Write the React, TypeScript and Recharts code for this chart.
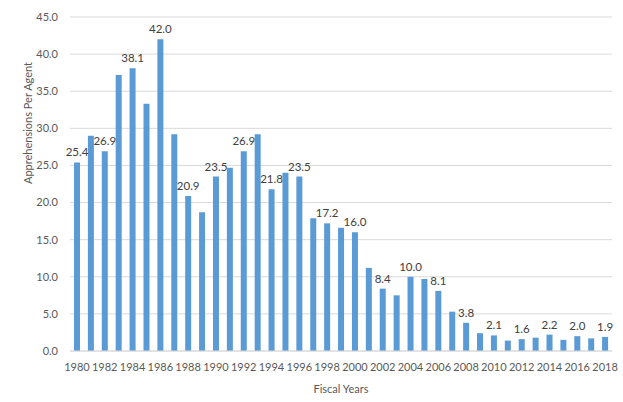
import { BarChart, Bar, XAxis, YAxis, CartesianGrid, LabelList } from "recharts";

const years = [
  1980, 1981, 1982, 1983, 1984, 1985, 1986, 1987, 1988, 1989,
  1990, 1991, 1992, 1993, 1994, 1995, 1996, 1997, 1998, 1999,
  2000, 2001, 2002, 2003, 2004, 2005, 2006, 2007, 2008, 2009,
  2010, 2011, 2012, 2013, 2014, 2015, 2016, 2017, 2018,
];

const perAgent = [
  25.4, 29.0, 26.9, 37.2, 38.1, 33.3, 42.0, 29.2, 20.9, 18.7,
  23.5, 24.7, 26.9, 29.2, 21.8, 24.0, 23.5, 17.9, 17.2, 16.6,
  16.0, 11.2, 8.4, 7.5, 10.0, 9.7, 8.1, 5.3, 3.8, 2.4,
  2.1, 1.4, 1.6, 1.8, 2.2, 1.5, 2.0, 1.7, 1.9,
];

const yTicks = [0, 5, 10, 15, 20, 25, 30, 35, 40, 45];

const data = years.map((y, i) => ({ year: String(y), value: perAgent[i] }));

const FONT = "Lato, 'Open Sans', sans-serif";
const TEXT = "#595959";
const GRID = "#D9D9D9";

function BarLabel(props: any) {
  const { x, y, width, value, index } = props;
  if (index % 2 !== 0) return null;
  return (
    <text
      x={x + width / 2}
      y={y - 6}
      textAnchor="middle"
      fill="#404040"
      fontSize={11.5}
      fontFamily={FONT}
    >
      {Number(value).toFixed(1)}
    </text>
  );
}

export default function App() {
  return (
    <div style={{ position: "absolute", left: 0, top: 0, background: "#fff" }}>
      <BarChart
        width={623}
        height={402}
        data={data}
        margin={{ top: 17, right: 11, bottom: 0, left: 0 }}
        barCategoryGap={0}
      >
        <CartesianGrid vertical={false} stroke={GRID} />
        <XAxis
          dataKey="year"
          height={51}
          interval={1}
          tickLine={false}
          axisLine={{ stroke: GRID }}
          tick={{ fill: TEXT, fontSize: 11, fontFamily: FONT }}
          tickMargin={6}
          label={{
            value: "Fiscal Years",
            position: "insideBottom",
            offset: 9,
            fill: TEXT,
            fontSize: 11,
            fontFamily: FONT,
          }}
        />
        <YAxis
          width={70}
          domain={[0, 45]}
          ticks={yTicks}
          tickFormatter={(v: number) => v.toFixed(1)}
          tickLine={false}
          axisLine={false}
          tick={{ fill: TEXT, fontSize: 11, fontFamily: FONT }}
          tickMargin={6}
          label={{
            value: "Apprehensions Per Agent",
            angle: -90,
            position: "insideLeft",
            offset: 28,
            fill: TEXT,
            fontSize: 11,
            fontFamily: FONT,
          }}
        />
        <Bar dataKey="value" fill="#5B9BD5" barSize={6} isAnimationActive={false}>
          <LabelList dataKey="value" content={BarLabel} />
        </Bar>
      </BarChart>
    </div>
  );
}
